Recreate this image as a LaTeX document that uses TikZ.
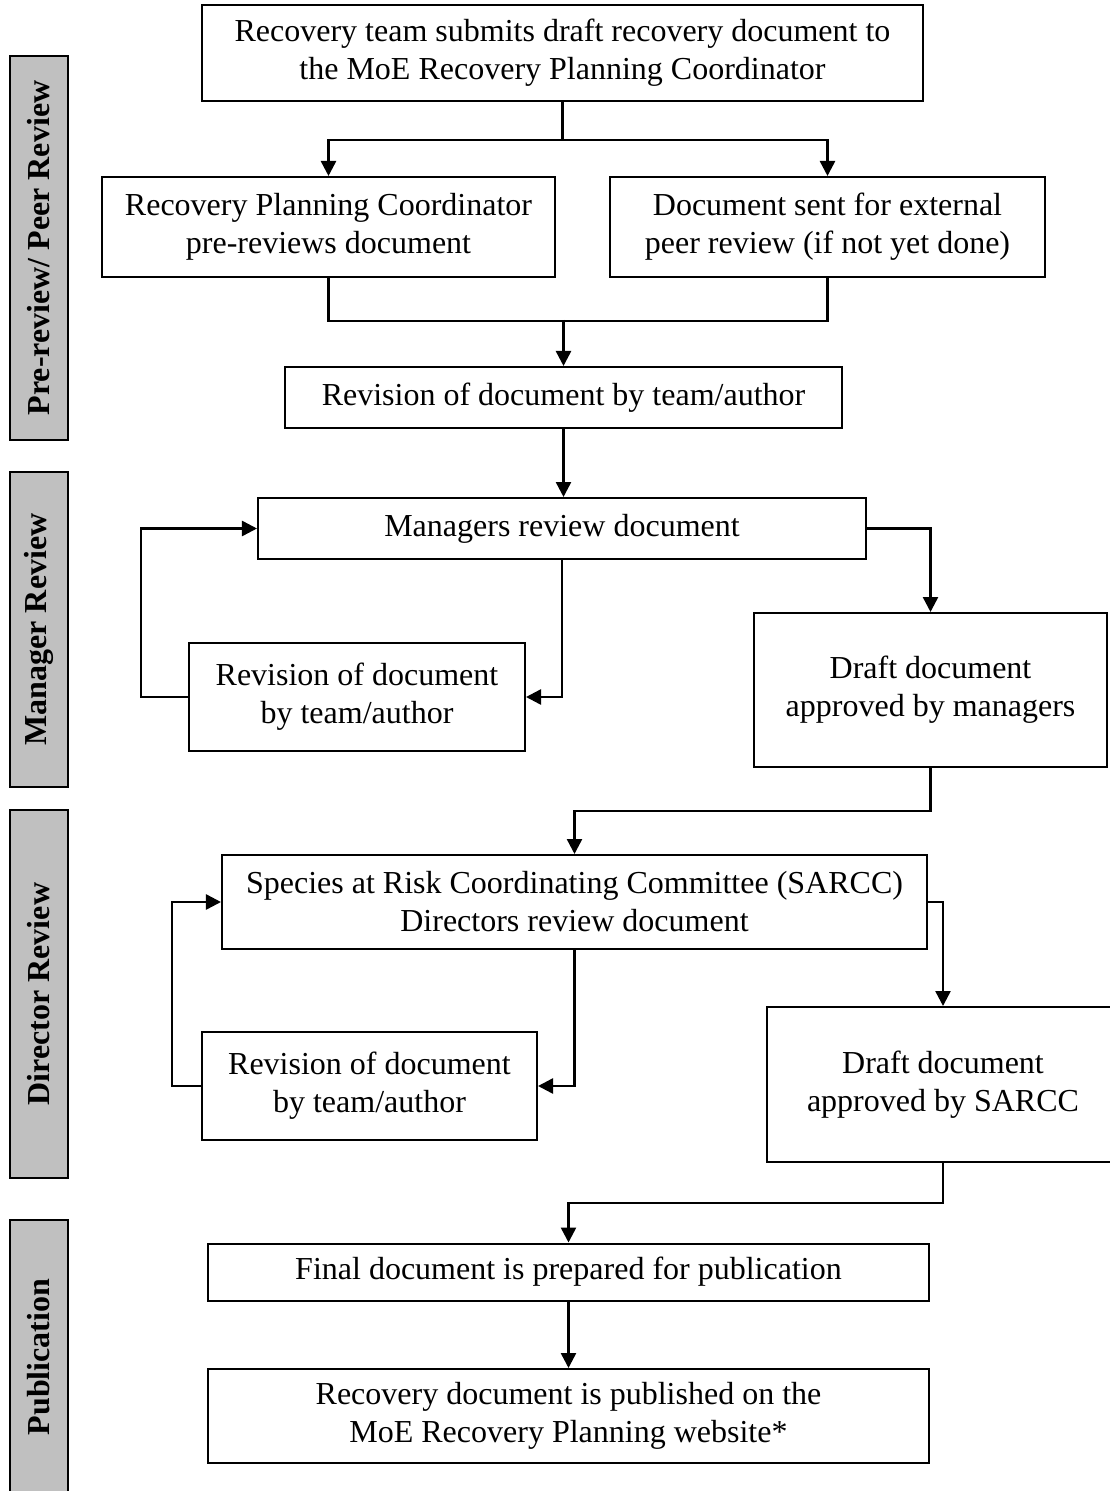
\documentclass[tikz,border=0pt]{standalone}
\usepackage{fontspec}
\setmainfont{Liberation Serif}
\usepackage{tikz}
\usetikzlibrary{arrows.meta,positioning}
\definecolor{rgray}{HTML}{C0C0C0}
\tikzset{
  >={Triangle[length=6pt,width=6pt]},
  rbox/.style={rectangle, draw=black, fill=white, line width=0.8pt,
               align=center, inner sep=2pt,
               font=\fontsize{12.8pt}{15.2pt}\selectfont},
  rphase/.style={rectangle, draw=black, fill=rgray, line width=0.8pt,
                 rotate=90, minimum height=23.2pt, inner sep=0pt,
                 font=\fontsize{12.8pt}{15pt}\selectfont\bfseries},
  rline/.style={black, line width=1pt},
  rarrow/.style={->, black, line width=1pt},
}

\begin{document}
\begin{tikzpicture}[x=0.4pt,y=-0.4pt]
  \useasboundingbox (0,0) rectangle (1110,1491);

  % phases down the left side
  \node[rphase, minimum width=153.6pt] (phpeer) at (39,248)  {Pre-review/ Peer Review};
  \node[rphase, minimum width=126pt]   (phmgr)  at (39,629.5) {Manager Review};
  \node[rphase, minimum width=147.2pt] (phdir)  at (39,994)  {Director Review};
  \node[rphase, minimum width=109.6pt] (phpub)  at (39,1357) {Publication};

  % pre-review / peer review
  \node[rbox, minimum width=288.4pt, minimum height=38.4pt] (submit) at (562.5,53)
       {Recovery team submits draft recovery document to\\the MoE Recovery Planning Coordinator};
  \node[rbox, minimum width=181.2pt, minimum height=40pt] (prerev) at (328.5,227)
       {Recovery Planning Coordinator\\pre-reviews document};
  \node[rbox, minimum width=174pt, minimum height=40pt] (peerrev) at (827.5,227)
       {Document sent for external\\peer review (if not yet done)};
  \node[rbox, minimum width=222.8pt, minimum height=24.4pt] (revA) at (563.5,397.5)
       {Revision of document by team/author};

  % manager review
  \node[rbox, minimum width=243.2pt, minimum height=24.4pt] (mgrrev) at (562,528.5)
       {Managers review document};
  \node[rbox, minimum width=134.4pt, minimum height=43.2pt] (revB) at (357,697)
       {Revision of document\\by team/author};
  \node[rbox, minimum width=141.2pt, minimum height=61.6pt] (mgrok) at (930.5,690)
       {Draft document\\approved by managers};

  % director review
  \node[rbox, minimum width=282pt, minimum height=37.6pt] (dirrev) at (574.5,902)
       {Species at Risk Coordinating Committee (SARCC)\\Directors review document};
  \node[rbox, minimum width=134pt, minimum height=43.2pt] (revC) at (369.5,1086)
       {Revision of document\\by team/author};
  \node[rbox, minimum width=140.8pt, minimum height=62pt] (dirok) at (943,1084.5)
       {Draft document\\approved by SARCC};

  % publication
  \node[rbox, minimum width=288.4pt, minimum height=22.8pt] (prep) at (568.5,1272)
       {Final document is prepared for publication};
  \node[rbox, minimum width=288.4pt, minimum height=37.6pt] (publ) at (568.5,1416)
       {Recovery document is published on the\\MoE Recovery Planning website*};

  % connectors
  \draw[rline] (submit.south) -- ++(0,38) coordinate (split);
  \draw[rarrow] (split) -| (prerev.north);
  \draw[rarrow] (split) -| (peerrev.north);
  \draw[rline] (prerev.south) -- ++(0,43) -| (peerrev.south);
  \coordinate (merge) at (revA.north |- 0,320);
  \draw[rarrow] (merge) -- (revA.north);
  \draw[rarrow] (revA.south) -- (revA.south |- mgrrev.north);

  \draw[rarrow] (revB.west) -- ++(-47,0) |- (mgrrev.west);
  \draw[rarrow] (mgrrev.south) |- (revB.east);
  \draw[rarrow] (mgrrev.east) -| (mgrok.north);
  \draw[rarrow] (mgrok.south) -- ++(0,43) -| (dirrev.north);

  \draw[rarrow] (revC.west) -- ++(-29,0) |- (dirrev.west);
  \draw[rarrow] (dirrev.south) |- (revC.east);
  \draw[rarrow] (dirrev.east) -| (dirok.north);
  \draw[rarrow] (dirok.south) -- ++(0,40) -| (prep.north);
  \draw[rarrow] (prep.south) -- (publ.north);

\end{tikzpicture}
\end{document}
